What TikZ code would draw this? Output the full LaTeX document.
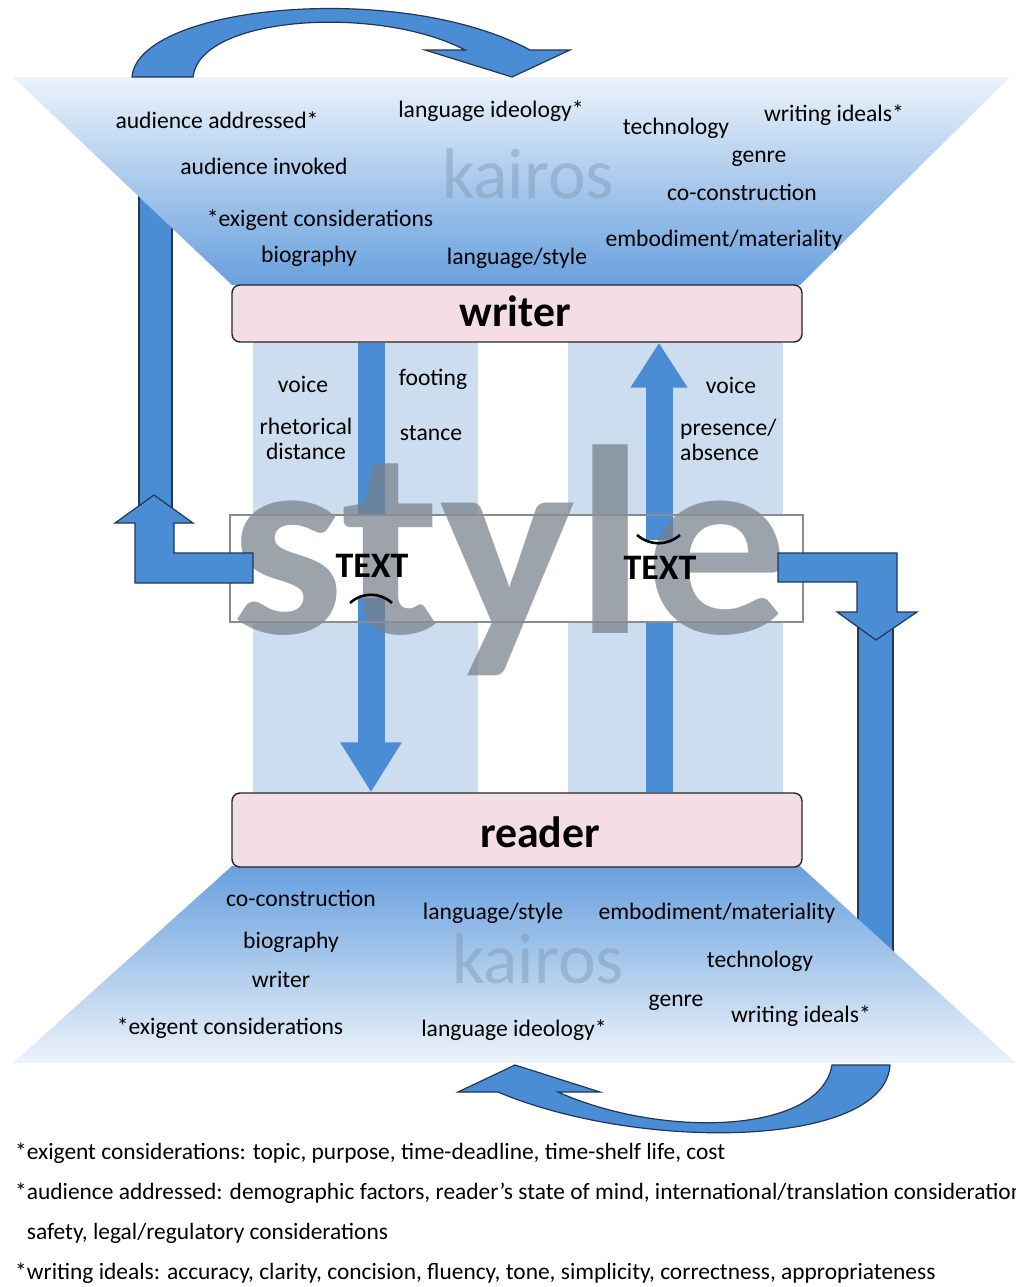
\documentclass[tikz,border=0pt]{standalone}
\usepackage{fontspec}
\setmainfont{Carlito}
\usetikzlibrary{arrows.meta}
\definecolor{figBlue}{RGB}{74,141,212}
\definecolor{figEdge}{RGB}{35,55,85}
\definecolor{figSky}{RGB}{104,160,222}
\definecolor{figPale}{RGB}{236,243,250}
\definecolor{figCol}{RGB}{203,221,238}
\definecolor{figPink}{RGB}{244,221,229}
\definecolor{figGrey}{RGB}{118,128,138}
\definecolor{figKai}{RGB}{125,150,180}

\begin{document}
\begin{tikzpicture}[x=1bp,y=-1bp,
  lbl/.style={font=\fontsize{23.7}{25}\selectfont,inner sep=0pt,text height=16bp,text depth=5bp},
  note/.style={font=\fontsize{23.5}{25}\selectfont,inner sep=0pt,anchor=base west},
  kai/.style={font=\fontsize{72}{72}\selectfont,text=figKai,opacity=0.45,anchor=base,inner sep=0pt},
  actor/.style={draw=black!85,line width=1.4bp,fill=figPink,rounded corners=8bp,minimum width=570bp,inner sep=0pt},
  actorname/.style={font=\fontsize{44}{44}\selectfont\bfseries,inner sep=0pt},
  fatarrow/.style={fill=figBlue,draw=figEdge,line width=1.2bp,line join=miter},
  shaft/.style={draw=figBlue,line width=27bp}]
\useasboundingbox (0,0) rectangle (1016,1287);
\fill[white] (0,0) rectangle (1016,1287);
% bars running behind the fans
\filldraw[fatarrow] (139,150) rectangle (172,510);
\filldraw[fatarrow] (858,625) rectangle (893,965);
% kairos fans
\shade[top color=figPale,bottom color=figSky] (13,77) -- (1010,77) -- (800,285) -- (232,285) -- cycle;
\shade[top color=figSky,bottom color=figPale] (232,866) -- (800,866) -- (1016,1063) -- (13,1063) -- cycle;
\node[kai] (kairosW) at (528,198) {kairos};
\node[kai] (kairosR) at (538,983) {kairos};
% columns
\fill[figCol] (253,342) rectangle (478,795);
\fill[figCol] (568,342) rectangle (783,795);
% writer and reader
\node[actor,minimum height=57bp] (writer) at (517,313.5) {};
\node[actorname] at (515,311) {writer};
\node[actor,minimum height=74bp] (reader) at (517,830) {};
\node[actorname] at (540,832) {reader};
% text box
\node[fill=white,minimum width=573bp,minimum height=107bp,inner sep=0pt] (textbox) at (516.5,568.5) {};
\coordinate (lx) at (371,0);
\coordinate (rx) at (659,0);
\coordinate (arcL) at (371,598);
\coordinate (arcR) at (659,540);
\draw[shaft] (writer.south -| lx) -- (textbox.north -| lx);
\draw[shaft,-{Triangle[width=58bp,length=50bp]}] (arcL) -- (reader.north -| lx);
\draw[shaft] (reader.north -| rx) -- (textbox.south -| rx);
\draw[shaft,-{Triangle[width=54bp,length=45bp]}] (arcR) -- (writer.south -| rx);
\node[font=\fontsize{270}{270}\selectfont\bfseries,text=figGrey,opacity=0.72,anchor=base,inner sep=0pt,xscale=1.06] (stylemark) at (510,633) {style};
\draw[black!45,line width=2bp] (textbox.north west) rectangle (textbox.south east);
\node[font=\fontsize{36}{36}\selectfont\bfseries,inner sep=0pt] (textL) at (372,566) {TEXT};
\node[font=\fontsize{36}{36}\selectfont\bfseries,inner sep=0pt] (textR) at (660,568) {TEXT};
\draw[line width=2.6bp] (350,603) .. controls (362,592) and (380,592) .. (392,603);
\draw[line width=2.6bp] (637,535) .. controls (650,546) and (667,546) .. (680,535);
% bent arrows out of the text box
\filldraw[fatarrow] (253,553) -- (174,553) -- (174,523) -- (193,523) -- (154,495) -- (115,523) -- (135,523) -- (135,583) -- (253,583) -- cycle;
\filldraw[fatarrow] (778,553) -- (897,553) -- (897,612) -- (917,612) -- (876,640) -- (837,612) -- (857,612) -- (857,582) -- (778,582) -- cycle;
% curved arrows
\filldraw[fatarrow] (132,77) .. controls (138,5) and (400,-20) .. (530,50) -- (570,50) -- (512,77) -- (425,50) -- (465,50) .. controls (380,5) and (200,15) .. (193,77) -- cycle;
\filldraw[fatarrow] (890,1065) .. controls (885,1148) and (640,1152) .. (498,1092) -- (458,1092) -- (515,1065) -- (600,1092) -- (558,1092) .. controls (660,1138) and (820,1135) .. (832,1065) -- cycle;
% writer side
\node[lbl] (wAud) at (217,123) {audience addressed*};
\node[lbl] (wIdeo) at (491,112) {language ideology*};
\node[lbl] (wTech) at (676,129) {technology};
\node[lbl] (wIdeal) at (834,116) {writing ideals*};
\node[lbl] (wInv) at (264,169) {audience invoked};
\node[lbl] (wGenre) at (759,157) {genre};
\node[lbl] (wCo) at (742,195) {co-construction};
\node[lbl] (wExi) at (320,221) {*exigent considerations};
\node[lbl] (wEmb) at (724,241) {embodiment/materiality};
\node[lbl] (wBio) at (309,257) {biography};
\node[lbl] (wLang) at (517,259) {language/style};
% between writer and text
\node[lbl] (voiceL) at (303,387) {voice};
\node[lbl] (footing) at (433,380) {footing};
\node[lbl,align=center,text height=,text depth=] (distance) at (306,439) {rhetorical\\distance};
\node[lbl] (stance) at (431,435) {stance};
\node[lbl] (voiceR) at (731,388) {voice};
\node[lbl,align=left,anchor=west,text height=,text depth=] (presence) at (680,440) {presence/\\absence};
% reader side
\node[lbl] (rCo) at (301,901) {co-construction};
\node[lbl] (rLang) at (493,914) {language/style};
\node[lbl] (rEmb) at (717,914) {embodiment/materiality};
\node[lbl] (rBio) at (291,943) {biography};
\node[lbl] (rTech) at (760,962) {technology};
\node[lbl] (rWriter) at (281,982) {writer};
\node[lbl] (rGenre) at (676,1001) {genre};
\node[lbl] (rIdeal) at (801,1017) {writing ideals*};
\node[lbl] (rExi) at (230,1029) {*exigent considerations};
\node[lbl] (rIdeo) at (514,1031) {language ideology*};
% notes
\node[note] (noteExi) at (15,1159) {*exigent considerations: topic, purpose, time-deadline, time-shelf life, cost};
\node[note] (noteAud) at (15,1199) {*audience addressed: demographic factors, reader’s state of mind, international/translation considerations,};
\node[note] (noteAud2) at (15,1239) {\phantom{*}safety, legal/regulatory considerations};
\node[note] (noteIdeal) at (15,1279) {*writing ideals: accuracy, clarity, concision, fluency, tone, simplicity, correctness, appropriateness};
\end{tikzpicture}
\end{document}
